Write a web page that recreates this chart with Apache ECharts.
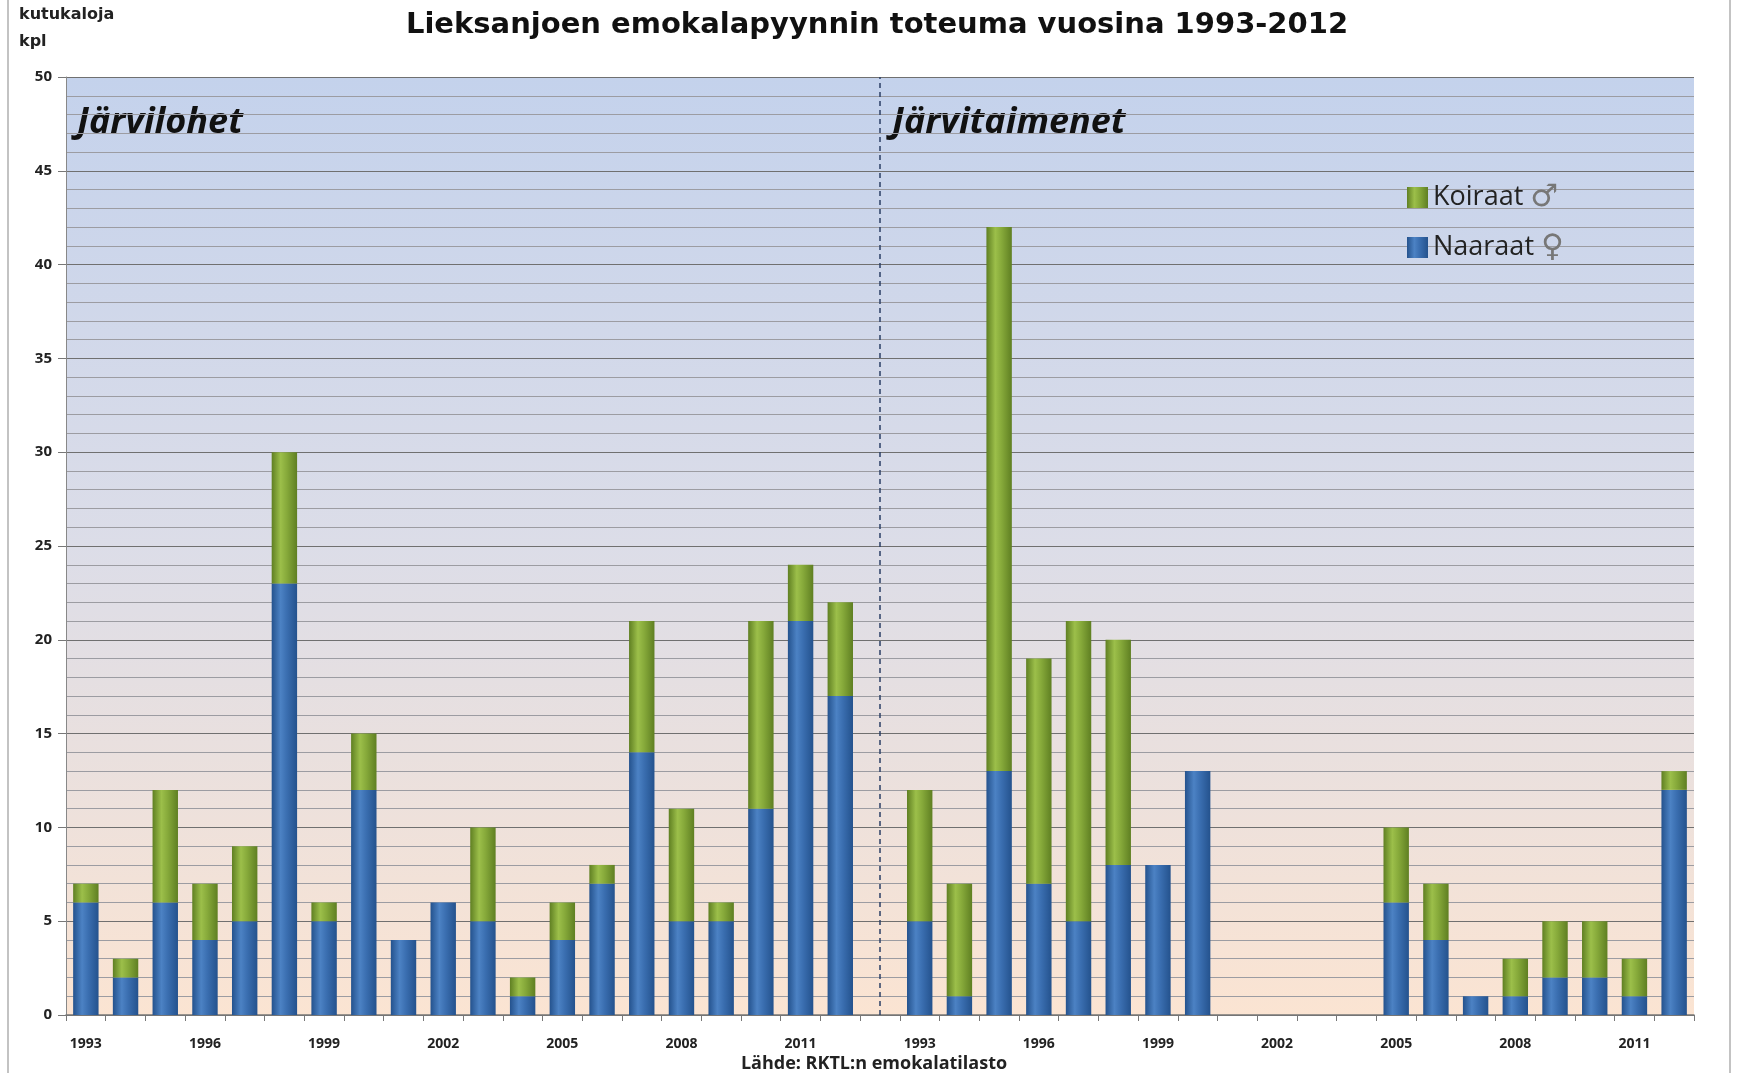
<!DOCTYPE html>
<html>
<head>
<meta charset="utf-8">
<script src="https://cdn.jsdelivr.net/npm/echarts@6/dist/echarts.min.js"></script>
<style>
  html, body { margin: 0; padding: 0; background: #fff; }
  #main { width: 1737px; height: 1073px; }
</style>
</head>
<body>
<div id="main"></div>
<script>
// vuodet, molemmat ryhmät + tyhjä väli keskellä
var years = ['1993', '1994', '1995', '1996', '1997', '1998', '1999', '2000', '2001', '2002',
  '2003', '2004', '2005', '2006', '2007', '2008', '2009', '2010', '2011', '2012'];
var categories = years.concat(['']).concat(years);

// Järvilohet
var lohiNaaraat = [6, 2, 6, 4, 5, 23, 5, 12, 4, 6, 5, 1, 4, 7, 14, 5, 5, 11, 21, 17];
var lohiKoiraat = [1, 1, 6, 3, 4, 7, 1, 3, 0, 0, 5, 1, 2, 1, 7, 6, 1, 10, 3, 5];
// Järvitaimenet
var taimenNaaraat = [5, 1, 13, 7, 5, 8, 8, 13, 0, 0, 0, 0, 6, 4, 1, 1, 2, 2, 1, 12];
var taimenKoiraat = [7, 6, 29, 12, 16, 12, 0, 0, 0, 0, 0, 0, 4, 3, 0, 2, 3, 3, 2, 1];

var naaraat = lohiNaaraat.concat([0]).concat(taimenNaaraat);
var koiraat = lohiKoiraat.concat([0]).concat(taimenKoiraat);

function cyl(dark, mid, light) {
  return new echarts.graphic.LinearGradient(0, 0, 1, 0, [
    { offset: 0, color: dark },
    { offset: 0.35, color: light },
    { offset: 0.6, color: mid },
    { offset: 1, color: dark }
  ]);
}

var chart = echarts.init(document.getElementById('main'));

var option = {
  animation: false,
  title: {
    text: 'Lieksanjoen emokalapyynnin toteuma vuosina 1993-2012',
    left: 872,
    textAlign: 'center',
    top: 6,
    textStyle: { fontFamily: 'DejaVu Sans', fontSize: 29, fontWeight: 'bold', color: '#111' }
  },
  legend: {
    orient: 'vertical',
    left: 1402,
    top: 177,
    icon: 'rect',
    itemWidth: 21,
    itemHeight: 21,
    itemGap: 19,
    data: ['Koiraat \u2642', 'Naaraat \u2640'],
    formatter: function (name) {
      var p = name.split(' ');
      return p[0] + ' {s|' + p[1] + '}';
    },
    textStyle: {
      fontFamily: 'Open Sans', fontSize: 27, color: '#222', lineHeight: 30,
      rich: { s: { fontFamily: 'DejaVu Sans', fontSize: 31, lineHeight: 30, color: '#777' } }
    }
  },
  grid: {
    left: 66,
    right: 43,
    top: 77,
    bottom: 58,
    show: true,
    borderWidth: 0,
    backgroundColor: new echarts.graphic.LinearGradient(0, 0, 0, 1, [
      { offset: 0, color: '#c4d2ec' },
      { offset: 0.5, color: '#dcdde8' },
      { offset: 1, color: '#fbe4d2' }
    ])
  },
  xAxis: {
    type: 'category',
    data: categories,
    axisLine: { lineStyle: { color: '#777', width: 1.5 } },
    axisTick: { show: true, interval: 0, length: 6, lineStyle: { color: '#777' } },
    axisLabel: {
      interval: 2,
      margin: 22,
      fontFamily: 'Open Sans',
      fontSize: 14,
      fontWeight: 'bold',
      color: '#222'
    },
    splitLine: { show: false }
  },
  yAxis: {
    type: 'value',
    min: 0,
    max: 50,
    interval: 5,
    axisLine: { show: true, lineStyle: { color: '#888' } },
    axisTick: { show: true, length: 8, lineStyle: { color: '#777' } },
    axisLabel: {
      margin: 14,
      fontFamily: 'Open Sans',
      fontSize: 15,
      fontWeight: 'bold',
      color: '#222'
    },
    splitLine: { lineStyle: { color: '#707070', width: 1.2 } },
    minorTick: { show: false, splitNumber: 5 },
    minorSplitLine: { show: true, lineStyle: { color: '#9c9ca2', width: 1 } }
  },
  graphic: [
    {
      type: 'rect',
      shape: { x: 8, y: -2, width: 1722, height: 1080 },
      style: { fill: 'none', stroke: '#b0b0b0', lineWidth: 1.5 },
      silent: true
    },
    {
      type: 'text', left: 19, top: 7,
      style: { text: 'kutukaloja', font: 'bold 16px "DejaVu Sans"', fill: '#222' }
    },
    {
      type: 'text', left: 19, top: 34,
      style: { text: 'kpl', font: 'bold 16px "DejaVu Sans"', fill: '#222' }
    },
    {
      type: 'text', left: 77, top: 105,
      style: { text: 'Järvilohet', font: 'italic bold 36px "Open Sans"', fill: '#111' }
    },
    {
      type: 'text', left: 892, top: 105,
      style: { text: 'Järvitaimenet', font: 'italic bold 36px "Open Sans"', fill: '#111' }
    },
    {
      type: 'text', x: 874, y: 1055,
      style: { text: 'Lähde: RKTL:n emokalatilasto', font: 'bold 18px "Open Sans"', fill: '#222', textAlign: 'center' }
    }
  ],
  series: [
    {
      name: 'Naaraat \u2640',
      type: 'bar',
      stack: 'kalat',
      barWidth: '64%',
      data: naaraat,
      itemStyle: { color: cyl('#24528d', '#3a6eb0', '#4c82c4') },
      markLine: {
        silent: true,
        symbol: 'none',
        label: { show: false },
        lineStyle: { type: [5, 4], color: '#2b3f66', width: 1.5 },
        data: [{ xAxis: 20 }]
      }
    },
    {
      name: 'Koiraat \u2642',
      type: 'bar',
      stack: 'kalat',
      barWidth: '64%',
      data: koiraat,
      itemStyle: { color: cyl('#5f7f22', '#86a93a', '#9cbf4a') }
    }
  ]
};
chart.setOption(option);
</script>
</body>
</html>
